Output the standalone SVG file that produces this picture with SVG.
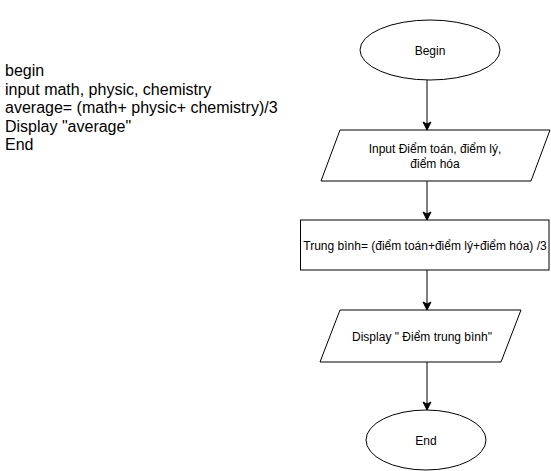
<svg xmlns="http://www.w3.org/2000/svg" width="551" height="471" viewBox="0 0 551 471">
  <defs>
    <style>
      .shape { fill: #ffffff; stroke: #000000; stroke-width: 1; }
      .lbl { font-family: "Liberation Sans", Arial, Helvetica, sans-serif; font-size: 12px; fill: #000000; text-anchor: middle; }
      .code { font-family: "Liberation Sans", Arial, Helvetica, sans-serif; font-size: 16px; fill: #000000; }
      .edge { fill: none; stroke: #000000; stroke-width: 1; }
    </style>
    <marker id="arrow" markerUnits="userSpaceOnUse" markerWidth="10" markerHeight="10" viewBox="0 0 10 10" refX="9" refY="5" orient="auto">
      <path d="M1,1 L9,5 L1,9 L3,5 Z" fill="#000000" stroke="#000000" stroke-width="1"/>
    </marker>
  </defs>
  <rect width="551" height="471" fill="#ffffff"/>

  <g id="pseudocode">
    <text class="code" x="5" y="76">begin</text>
    <text class="code" x="5" y="94.5">input math, physic, chemistry</text>
    <text class="code" x="5" y="113">average= (math+ physic+ chemistry)/3</text>
    <text class="code" x="5" y="131.5">Display "average"</text>
    <text class="code" x="5" y="150">End</text>
  </g>

  <g id="connectors">
    <line class="edge" x1="427" y1="80" x2="427" y2="130" marker-end="url(#arrow)"/>
    <line class="edge" x1="427" y1="181" x2="427" y2="220" marker-end="url(#arrow)"/>
    <line class="edge" x1="427" y1="270" x2="427" y2="310" marker-end="url(#arrow)"/>
    <line class="edge" x1="427" y1="362" x2="427" y2="410" marker-end="url(#arrow)"/>
  </g>

  <g id="begin">
    <ellipse class="shape" cx="430" cy="50" rx="70" ry="30"/>
    <text class="lbl" x="430" y="55">Begin</text>
  </g>

  <g id="input">
    <polygon class="shape" points="340,130 550,130 531,181 321,181"/>
    <text class="lbl" x="435" y="153">Input Điểm toán, điểm lý,</text>
    <text class="lbl" x="435" y="168">điểm hóa</text>
  </g>

  <g id="compute">
    <rect class="shape" x="300.5" y="220" width="248.5" height="50"/>
    <text class="lbl" x="425" y="249.5">Trung bình= (điểm toán+điểm lý+điểm hóa) /3</text>
  </g>

  <g id="display">
    <polygon class="shape" points="340,310 521,310 501,362 320,362"/>
    <text class="lbl" x="422" y="340.5">Display " Điểm trung bình"</text>
  </g>

  <g id="end">
    <ellipse class="shape" cx="426" cy="440" rx="60" ry="30"/>
    <text class="lbl" x="426" y="445">End</text>
  </g>
</svg>
